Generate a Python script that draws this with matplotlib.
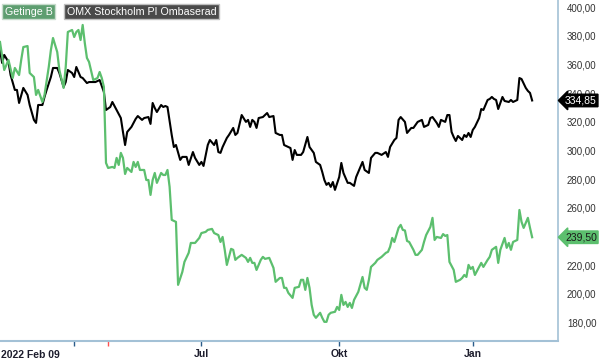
import matplotlib
matplotlib.use("Agg")
import matplotlib.pyplot as plt
from matplotlib.ticker import FixedLocator, FuncFormatter

plt.rcParams['font.family'] = ['Liberation Sans', 'DejaVu Sans']

# trading day index since 2022 Feb 09 -> price
omx_days = [0, 1, 2, 4, 5, 7, 8, 9, 11, 13, 14, 16, 17, 18, 20, 21, 22, 24, 25, 27, 28, 30, 31, 32, 34, 35, 36, 38, 39,
            41, 42, 45, 47, 49, 50, 52, 53, 55, 57, 58, 59, 60, 62, 64, 65, 67, 68, 70, 71, 72, 73, 74, 76, 77, 78, 79,
            81, 82, 83, 85, 86, 88, 89, 91, 92, 94, 95, 96, 98, 99, 101, 102, 103, 104, 105, 107, 108, 110, 111, 112,
            114, 116, 117, 118, 119, 120, 121, 122, 124, 126, 127, 129, 130, 132, 133, 134, 136, 137, 138, 139, 140,
            142, 143, 145, 146, 148, 149, 151, 152, 153, 154, 155, 156, 157, 158, 160, 161, 162, 164, 165, 167, 168,
            169, 171, 172, 174, 175, 177, 178, 180, 182, 183, 184, 186, 187, 188, 189, 191, 192, 194, 195, 197, 199,
            200, 202, 203, 204, 206, 207, 208, 210, 211, 212, 213, 214, 215, 216, 218, 219, 220, 221, 222, 223, 224,
            226, 227, 228, 230, 231, 232, 233, 234, 235, 237, 238, 240, 241, 242, 244, 245, 246, 248, 249, 250, 251]
omx_vals = [370.0, 361.0, 366.6, 361.7, 352.6, 342.2, 342.2, 333.1, 343.6, 338.7, 331.7, 321.3, 319.2, 331.7, 331.7,
            337.3, 342.2, 351.2, 357.5, 357.5, 354.0, 344.3, 347.7, 356.1, 354.0, 351.2, 358.2, 351.2, 350.5, 347.0,
            347.7, 347.7, 349.1, 340.8, 328.2, 330.3, 333.8, 328.2, 322.6, 312.9, 303.8, 312.9, 316.4, 322.0, 324.0,
            321.3, 322.6, 323.3, 318.5, 333.1, 329.6, 326.8, 331.7, 330.3, 331.0, 330.3, 310.8, 302.4, 303.8, 293.4,
            295.5, 295.5, 289.9, 298.9, 294.8, 289.9, 292.0, 289.2, 303.8, 307.3, 303.8, 307.3, 298.9, 298.3, 302.4,
            308.7, 310.8, 315.7, 310.8, 312.2, 324.7, 319.9, 321.3, 316.4, 321.3, 319.9, 315.7, 322.6, 323.3, 326.1,
            323.3, 324.0, 312.2, 310.8, 310.8, 303.8, 302.4, 301.7, 293.4, 300.3, 296.9, 296.9, 298.9, 309.4, 302.4,
            298.3, 292.0, 289.9, 285.0, 279.4, 276.0, 277.4, 274.6, 278.0, 272.5, 281.5, 291.3, 284.3, 277.4, 277.4,
            275.3, 281.5, 285.0, 292.0, 286.4, 284.3, 294.8, 298.3, 298.3, 296.9, 298.9, 295.5, 302.4, 307.3, 308.7,
            321.3, 323.3, 319.9, 312.2, 315.7, 315.7, 319.9, 321.3, 316.4, 317.8, 322.6, 323.3, 319.2, 316.4, 321.3,
            319.9, 324.7, 324.7, 312.9, 309.4, 306.6, 310.1, 307.3, 310.8, 309.4, 312.2, 309.4, 314.3, 316.4, 322.6,
            328.9, 328.2, 335.2, 335.9, 337.3, 335.9, 335.2, 328.9, 337.3, 334.5, 333.8, 335.2, 333.8, 335.2, 350.5,
            349.8, 343.6, 341.5, 340.1, 334.85]

getinge_days = [0, 2, 4, 6, 7, 9, 10, 11, 13, 14, 16, 17, 18, 20, 21, 23, 24, 25, 27, 28, 30, 31, 32, 34, 35, 36, 37,
                38, 39, 40, 41, 42, 44, 46, 47, 48, 49, 50, 51, 53, 54, 55, 56, 57, 58, 59, 60, 62, 63, 64, 65, 66, 68,
                69, 70, 71, 72, 73, 74, 76, 77, 78, 79, 80, 81, 83, 84, 86, 87, 89, 90, 92, 94, 95, 97, 98, 100, 101,
                103, 104, 105, 106, 107, 109, 110, 111, 112, 114, 116, 117, 118, 119, 120, 121, 123, 124, 125, 127, 128,
                129, 130, 132, 133, 134, 135, 136, 138, 139, 141, 142, 143, 144, 145, 146, 147, 148, 149, 151, 152, 153,
                154, 155, 156, 158, 159, 160, 161, 162, 163, 164, 165, 166, 167, 169, 171, 172, 173, 174, 175, 177, 178,
                180, 182, 183, 184, 185, 186, 187, 188, 189, 190, 191, 192, 193, 195, 196, 197, 199, 200, 201, 203, 204,
                205, 206, 208, 209, 210, 211, 212, 214, 215, 217, 218, 219, 220, 221, 222, 223, 224, 226, 227, 228, 230,
                231, 232, 234, 235, 236, 238, 239, 240, 241, 242, 244, 245, 246, 247, 249, 250, 251]
getinge_vals = [375.6, 356.1, 363.1, 350.5, 357.5, 352.6, 363.1, 372.1, 372.8, 354.0, 351.2, 338.7, 342.2, 333.8,
                338.7, 358.2, 370.0, 378.4, 368.6, 356.1, 343.6, 358.2, 382.6, 384.0, 379.1, 382.6, 384.0, 377.0,
                387.5, 374.9, 364.5, 361.7, 349.1, 350.5, 354.7, 350.5, 344.3, 291.3, 287.8, 288.5, 287.8, 294.8,
                289.9, 298.3, 294.8, 283.6, 287.8, 285.0, 292.0, 288.5, 292.0, 286.4, 286.4, 279.4, 279.4, 269.0,
                279.4, 284.3, 277.4, 284.3, 282.9, 282.9, 286.4, 274.6, 251.6, 250.2, 206.3, 215.3, 222.3, 228.6,
                235.5, 235.5, 239.0, 242.4, 243.2, 244.6, 245.3, 242.4, 241.0, 236.2, 239.7, 230.7, 220.2, 231.4,
                230.7, 223.7, 225.1, 227.2, 225.1, 222.3, 225.1, 221.6, 221.6, 216.7, 223.7, 225.8, 224.4, 225.1,
                221.6, 218.1, 208.4, 211.1, 211.1, 204.2, 204.2, 200.7, 197.2, 204.2, 204.9, 209.8, 209.8, 202.8,
                211.1, 204.2, 192.3, 185.4, 183.3, 186.8, 183.3, 180.5, 180.5, 185.4, 186.8, 187.5, 190.9, 188.8,
                199.3, 192.3, 194.4, 190.9, 193.7, 190.2, 195.8, 201.4, 211.8, 204.2, 202.8, 209.8, 218.8, 221.6,
                223.7, 225.8, 228.6, 229.3, 232.8, 239.0, 236.2, 241.0, 246.0, 248.1, 244.6, 244.2, 236.9, 236.2,
                230.7, 227.2, 227.2, 230.7, 236.2, 241.0, 246.7, 253.0, 237.6, 239.7, 239.0, 241.7, 240.4, 241.0,
                222.3, 216.7, 208.4, 209.8, 211.1, 213.2, 211.8, 220.2, 217.4, 218.8, 213.2, 218.8, 221.6, 218.8,
                223.7, 225.8, 230.7, 232.8, 221.6, 230.7, 239.0, 232.1, 235.5, 230.7, 236.2, 237.6, 258.5, 250.2,
                246.0, 253.0, 246.0, 239.5]

month_ticks = [35, 95, 160, 223]
month_labels = ["", "Jul", "Okt", "Jan"]
event_ticks = [51]  # red marker on the time axis
y_ticks = list(range(180, 401, 20))

green = "#5cbf6e"
fig = plt.figure(figsize=(6, 3.6), dpi=100)
ax = fig.add_axes([0, 0.053, 0.93, 0.947])

ax.plot(omx_days, omx_vals, color="black", lw=1.5, zorder=3)
ax.plot(getinge_days, getinge_vals, color=green, lw=1.6, zorder=3)

ax.set_xlim(0, 263.2)
ax.set_ylim(167.2, 404.9)

for s in ["top", "left"]:
    ax.spines[s].set_visible(False)
ax.spines["right"].set_color("#a3c1d6")
ax.spines["bottom"].set_color("#a3c1d6")
ax.spines["right"].set_linewidth(1.2)
ax.spines["bottom"].set_linewidth(1.5)

ax.yaxis.tick_right()
ax.yaxis.set_major_locator(FixedLocator(y_ticks))
ax.yaxis.set_major_formatter(FuncFormatter(lambda v, p: f"{v:.2f}".replace(".", ",")))
ax.tick_params(axis="y", length=0, pad=6.5, labelsize=7, labelcolor="#333333")

ax.set_xticks(month_ticks)
ax.set_xticklabels(month_labels, fontweight="bold", fontsize=7.5, color="#1c1c2c")
ax.set_xticks(event_ticks, minor=True)
ax.tick_params(axis="x", which="major", length=3.5, width=1, color="#2b5c8a", pad=2.5)
ax.tick_params(axis="x", which="minor", length=3.5, width=1, color="#ff5050")

ax.text(0.002, -0.026, "2022 Feb 09", transform=ax.transAxes, ha="left", va="top",
        fontweight="bold", fontsize=7.5, color="#1c1c2c")

# legend boxes
ax.text(0.009, 0.98, "Getinge B", transform=ax.transAxes, ha="left", va="top", fontsize=7.7,
        color="white", bbox=dict(boxstyle="square,pad=0.25", fc="#5e9e70", ec="#c8dccd", lw=1))
ax.text(0.12, 0.98, "OMX Stockholm PI Ombaserad", transform=ax.transAxes, ha="left", va="top",
        fontsize=7.7, color="white", bbox=dict(boxstyle="square,pad=0.25", fc="#4a4a4a", ec="#bfbfbf", lw=1))

# last value tags
tf = ax.get_yaxis_transform()
ax.annotate(f"{omx_vals[-1]:.2f}".replace(".", ","), xy=(1, omx_vals[-1]), xycoords=tf,
            xytext=(5, 0), textcoords="offset points", ha="left", va="center", fontsize=7.5,
            color="white", zorder=6, annotation_clip=False,
            bbox=dict(boxstyle="larrow,pad=0.12", fc="black", ec="black"))
ax.annotate(f"{getinge_vals[-1]:.2f}".replace(".", ","), xy=(1, getinge_vals[-1]), xycoords=tf,
            xytext=(5, 0), textcoords="offset points", ha="left", va="center", fontsize=7.5,
            color="#1a1a1a", zorder=6, annotation_clip=False,
            bbox=dict(boxstyle="larrow,pad=0.12", fc=green, ec=green))

fig.savefig("out.png", dpi=100, facecolor="white")
